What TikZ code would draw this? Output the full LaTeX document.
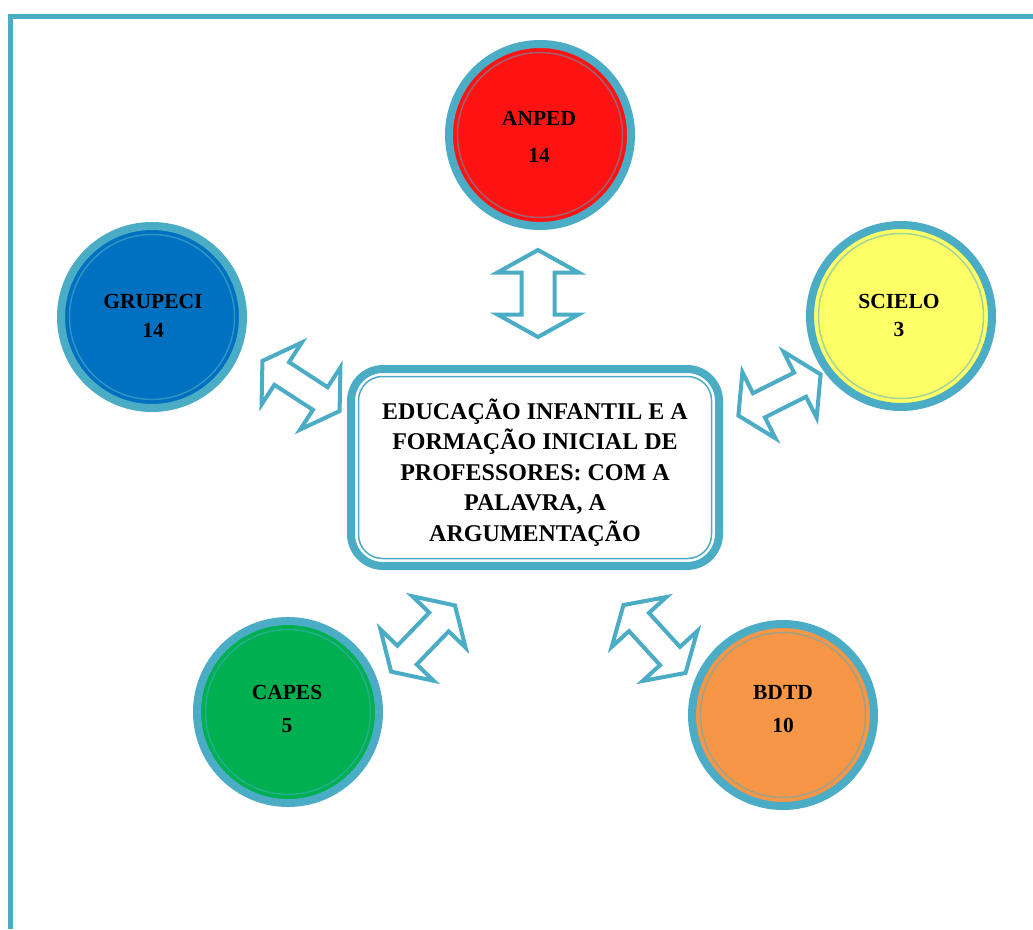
\documentclass[tikz,border=0pt]{standalone}
\usepackage{fontspec}
\setmainfont{Liberation Serif}
\definecolor{ringblue}{RGB}{75,172,198}
\definecolor{cred}{RGB}{255,18,18}
\definecolor{cblue}{RGB}{0,112,192}
\definecolor{cyellow}{RGB}{255,255,102}
\definecolor{cgreen}{RGB}{0,176,80}
\definecolor{corange}{RGB}{247,150,70}
\tikzset{
  src/.style={circle, draw=ringblue, line width=8pt, minimum size=182pt, inner sep=0pt},
  srctext/.style={font=\fontsize{21.5}{26}\selectfont\bfseries, align=center, text=black, inner sep=0pt},
  innerring/.style={line width=1.5pt},
  titlebox/.style={draw=ringblue, fill=white, line width=8pt, rounded corners=32pt,
    minimum width=368pt, minimum height=197pt, outer sep=0pt, inner sep=0pt},
  titletext/.style={font=\fontsize{24}{30.4}\selectfont\bfseries, align=center, text=black, inner sep=0pt},
  blockarrow/.style={draw=ringblue, fill=white, line width=4pt, line join=miter},
  frameline/.style={ringblue, line width=5pt, line join=miter},
  vdblarrow/.pic={\draw[blockarrow] (-43.5,0) -- (-21,-40.5) -- (-21,-16.5) -- (21,-16.5) -- (21,-40.5)
    -- (43.5,0) -- (21,40.5) -- (21,16.5) -- (-21,16.5) -- (-21,40.5) -- cycle;},
  ddblarrow/.pic={\draw[blockarrow] (-46,0) -- (-23,-37) -- (-23,-13.5) -- (23,-13.5) -- (23,-37)
    -- (46,0) -- (23,37) -- (23,13.5) -- (-23,13.5) -- (-23,37) -- cycle;}
}
\begin{document}
\begin{tikzpicture}[x=1pt,y=-1pt]
\useasboundingbox (0,0) rectangle (1033,929);
\fill[white] (0,0) rectangle (1033,929);
% frame
\draw[frameline] (10,929) -- (10,16.5) -- (1033,16.5);
% source circles
\node[src, fill=cred] (anped) at (540,135) {};
\draw[innerring, draw=ringblue!50!cred] (anped.center) circle (82.5);
\node[srctext] (anpedtxt) at (539,137) {ANPED\\[11pt]14};
\node[src, fill=cblue] (grupeci) at (152,317) {};
\draw[innerring, draw=ringblue!60!cblue] (grupeci.center) circle (82.5);
\node[srctext] (grupecitxt) at (153,315.5) {GRUPECI\\[3pt]14};
\node[src, fill=cyellow] (scielo) at (901,316) {};
\draw[innerring, draw=ringblue!50!cyellow] (scielo.center) circle (82.5);
\node[srctext] (scielotxt) at (899,315) {SCIELO\\[2pt]3};
\node[src, fill=cgreen] (capes) at (288,712) {};
\draw[innerring, draw=ringblue!50!cgreen] (capes.center) circle (82.5);
\node[srctext] (capestxt) at (287,708.5) {CAPES\\[7pt]5};
\node[src, fill=corange] (bdtd) at (783,715) {};
\draw[innerring, draw=ringblue!50!corange] (bdtd.center) circle (82.5);
\node[srctext] (bdtdtxt) at (783,709) {BDTD\\[7pt]10};
% central box
\node[titlebox] (theme) at (535,467.5) {};
\draw[ringblue, line width=1.5pt, rounded corners=24pt]
  ([shift={(7.5,7.5)}]theme.north west) rectangle ([shift={(-7.5,-7.5)}]theme.south east);
\node[titletext] (themetxt) at (535,472.5) {EDUCAÇÃO INFANTIL E A\\FORMAÇÃO INICIAL DE\\PROFESSORES: COM A\\PALAVRA, A\\ARGUMENTAÇÃO};
% double block arrows
\pic[rotate=90] at (538,293.5) {vdblarrow};
\pic[rotate=-33] at (301,386) {ddblarrow};
\pic[rotate=26.6] at (779.5,395) {ddblarrow};
\pic[rotate=46] at (423,638.5) {ddblarrow};
\pic[rotate=-47.6] at (654.5,639) {ddblarrow};
\end{tikzpicture}
\end{document}
